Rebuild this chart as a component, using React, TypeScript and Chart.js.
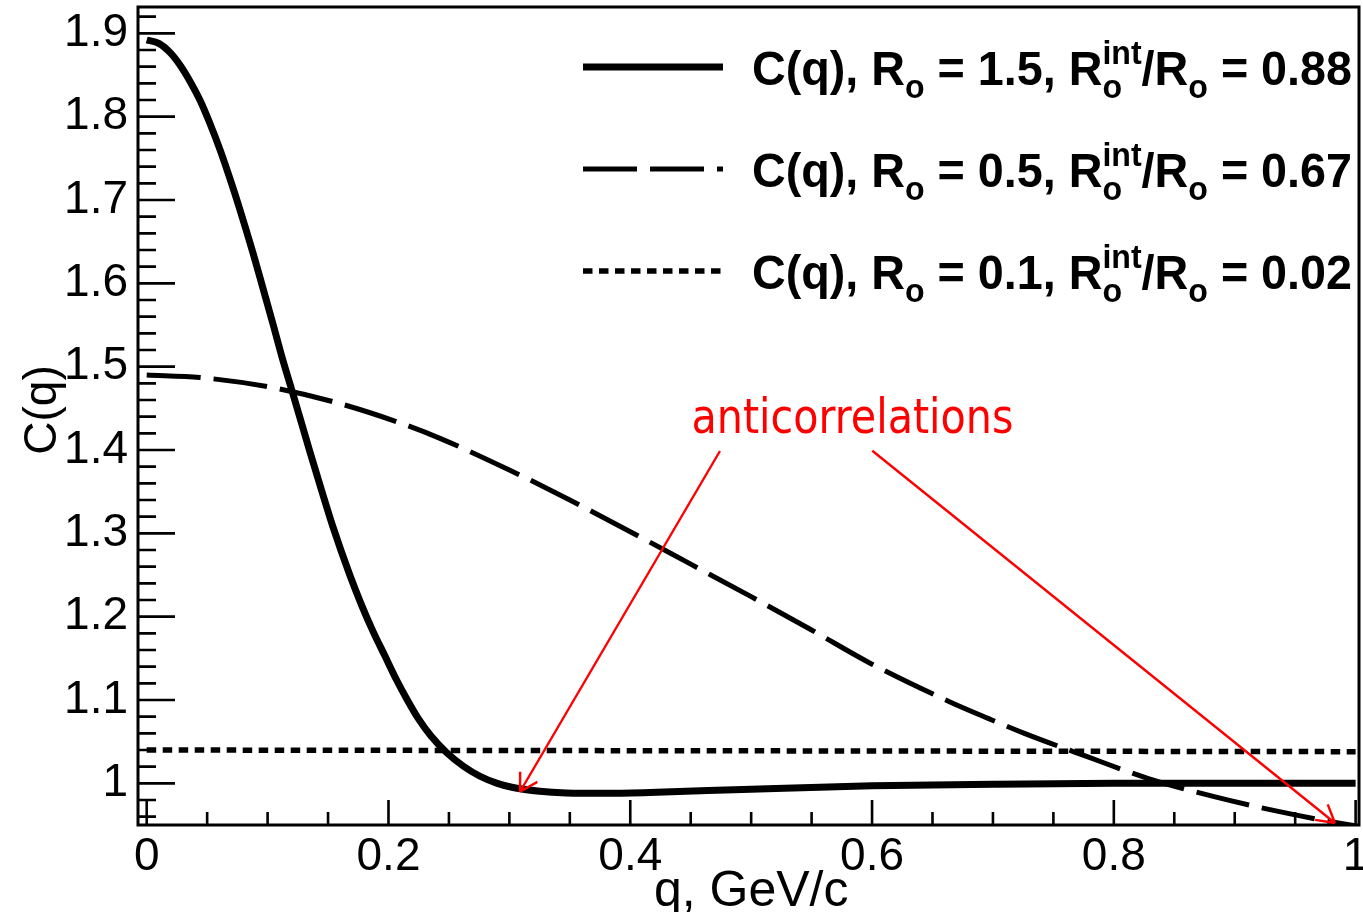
import { useEffect, useRef } from 'react';
import { Chart, registerables } from 'chart.js';

Chart.register(...registerables);

// ---- data ----
const Q_SOLID = [0, 0.01, 0.02, 0.0275, 0.036, 0.044, 0.052, 0.061, 0.069, 0.077, 0.088, 0.096, 0.1045, 0.112, 0.12, 0.135, 0.145, 0.154, 0.168, 0.178, 0.187, 0.197, 0.2067, 0.215, 0.225, 0.235, 0.248, 0.262, 0.2757, 0.29, 0.303, 0.325, 0.347, 0.38, 0.416, 0.5, 0.6, 0.7, 0.8, 1.0];
const C_SOLID = [1.892, 1.888, 1.876, 1.862, 1.842, 1.82, 1.793, 1.759, 1.725, 1.689, 1.636, 1.595, 1.551, 1.511, 1.472, 1.398, 1.35, 1.308, 1.25, 1.213, 1.183, 1.153, 1.124, 1.1016, 1.077, 1.057, 1.037, 1.0205, 1.0085, 1.0, 0.995, 0.9905, 0.9885, 0.988, 0.989, 0.993, 0.997, 0.999, 1.0, 1.0];

const Q_DASHED = [0, 0.044, 0.1, 0.154, 0.2067, 0.2426, 0.3, 0.35, 0.4, 0.45, 0.5, 0.55, 0.6, 0.664, 0.696, 0.726, 0.778, 0.828, 0.883, 0.937, 0.987, 1.0];
const C_DASHED = [1.49, 1.487, 1.476, 1.458, 1.434, 1.414, 1.376, 1.34, 1.302, 1.263, 1.224, 1.184, 1.143, 1.098, 1.078, 1.06, 1.032, 1.006, 0.984, 0.966, 0.952, 0.949];

const Q_DOTTED = [0, 0.5, 1.0];
const C_DOTTED = [1.04, 1.039, 1.038];

const X_TICKS = [0, 0.2, 0.4, 0.6, 0.8, 1];
const X_TICK_LABELS = ['0', '0.2', '0.4', '0.6', '0.8', '1'];
const Y_TICKS = [1, 1.1, 1.2, 1.3, 1.4, 1.5, 1.6, 1.7, 1.8, 1.9];
const Y_TICK_LABELS = ['1', '1.1', '1.2', '1.3', '1.4', '1.5', '1.6', '1.7', '1.8', '1.9'];

const LEGEND_R0 = ['1.5', '0.5', '0.1'];
const LEGEND_RATIO = ['0.88', '0.67', '0.02'];

const X_TITLE = 'q, GeV/c';
const Y_TITLE = 'C(q)';
const NOTE_TEXT = 'anticorrelations';

// annotation anchor points in data coordinates
const NOTE_POS = { x: 0.5838, y: 1.42 };
const ARROWS = [
  { x0: 0.4742, y0: 1.3988, x1: 0.3088, y1: 0.9899 },
  { x0: 0.6002, y0: 1.3991, x1: 0.9829, y1: 0.9524 },
];

const X_MIN = -0.0072;
const X_MAX = 1.0028;
const Y_MIN = 0.95;
const Y_MAX = 1.9316;

const SANS = '"Liberation Sans", Arial, Helvetica, sans-serif';

function drawArrow(ctx: CanvasRenderingContext2D, x0: number, y0: number, x1: number, y1: number) {
  const head = 20;
  const ang = Math.PI / 6;
  ctx.beginPath();
  ctx.moveTo(x0, y0);
  ctx.lineTo(x1, y1);
  const a = Math.atan2(y0 - y1, x0 - x1);
  for (const s of [-1, 1]) {
    ctx.moveTo(x1, y1);
    ctx.lineTo(x1 + head * Math.cos(a + s * ang), y1 + head * Math.sin(a + s * ang));
  }
  ctx.stroke();
}

type Seg = { t: string; f: string; dy: number } | { stack: { t: string; f: string; dy: number }[] };

function drawRich(ctx: CanvasRenderingContext2D, x: number, baseline: number, segs: Seg[], targetW: number) {
  const widths: number[] = segs.map((s) => {
    if ('stack' in s) {
      return Math.max(...s.stack.map((p) => { ctx.font = p.f; return ctx.measureText(p.t).width; }));
    }
    ctx.font = s.f;
    return ctx.measureText(s.t).width;
  });
  const total = widths.reduce((a, b) => a + b, 0);
  const sx = targetW / total;
  ctx.save();
  ctx.translate(x, baseline);
  ctx.scale(sx, 1);
  ctx.textAlign = 'left';
  ctx.textBaseline = 'alphabetic';
  let cx = 0;
  segs.forEach((s, i) => {
    const parts = 'stack' in s ? s.stack : [s];
    for (const p of parts) {
      ctx.font = p.f;
      ctx.fillText(p.t, cx, p.dy);
    }
    cx += widths[i];
  });
  ctx.restore();
}

const rootPlugin = {
  id: 'rootStyle',
  beforeDatasetsDraw(chart: any) {
    const { ctx, chartArea, scales } = chart;
    const { left, top, right, bottom } = chartArea;
    const xs = scales.x;
    const ys = scales.y;
    ctx.save();
    ctx.strokeStyle = '#000';
    ctx.lineWidth = 3;
    ctx.strokeRect(left, top, right - left, bottom - top);
    ctx.lineWidth = 2.6;
    ctx.beginPath();
    for (let i = 0; i <= 20; i++) {
      const v = i * 0.05;
      const px = xs.getPixelForValue(v);
      const len = i % 4 === 0 ? 25 : 13;
      ctx.moveTo(px, bottom);
      ctx.lineTo(px, bottom - len);
    }
    for (let i = 47; i <= 97; i++) {
      const v = i * 0.02;
      if (v < Y_MIN || v > Y_MAX) continue;
      const py = ys.getPixelForValue(v);
      const len = i % 5 === 0 ? 37 : 18;
      ctx.moveTo(left, py);
      ctx.lineTo(left + len, py);
    }
    ctx.stroke();
    ctx.restore();
  },
  afterDraw(chart: any) {
    const { ctx, chartArea, scales } = chart;
    const xs = scales.x;
    const ys = scales.y;
    ctx.save();
    // axis titles
    ctx.fillStyle = '#000';
    ctx.font = `50px ${SANS}`;
    ctx.textAlign = 'center';
    ctx.textBaseline = 'alphabetic';
    ctx.fillText(X_TITLE, xs.getPixelForValue(0.5), 906);
    ctx.save();
    ctx.translate(56, (chartArea.top + chartArea.bottom) / 2 - 6);
    ctx.rotate(-Math.PI / 2);
    ctx.font = `46px ${SANS}`;
    ctx.fillText(Y_TITLE, 0, 0);
    ctx.restore();

    // legend
    const ds = chart.data.datasets;
    const rowLine = [67, 169, 271];
    ds.forEach((d: any, i: number) => {
      ctx.save();
      ctx.strokeStyle = '#000';
      ctx.lineWidth = d.borderWidth;
      ctx.setLineDash(d.borderDash || []);
      ctx.lineCap = 'butt';
      ctx.beginPath();
      ctx.moveTo(583, rowLine[i]);
      ctx.lineTo(723, rowLine[i]);
      ctx.stroke();
      ctx.restore();
      const main = `bold 48px ${SANS}`;
      const small = `bold 33px ${SANS}`;
      const segs: Seg[] = [
        { t: 'C(q), R', f: main, dy: 0 },
        { t: 'o', f: small, dy: 13 },
        { t: ` = ${LEGEND_R0[i]}, R`, f: main, dy: 0 },
        { stack: [{ t: 'int', f: small, dy: -21 }, { t: 'o', f: small, dy: 13 }] },
        { t: '/R', f: main, dy: 0 },
        { t: 'o', f: small, dy: 13 },
        { t: ` = ${LEGEND_RATIO[i]}`, f: main, dy: 0 },
      ];
      ctx.fillStyle = '#000';
      drawRich(ctx, 752, rowLine[i] + 18, segs, 600);
    });

    // annotation
    ctx.fillStyle = '#ff0000';
    ctx.strokeStyle = '#ff0000';
    ctx.lineWidth = 2.4;
    ctx.font = `48px "DejaVu Sans", Verdana, sans-serif`;
    const tw = ctx.measureText(NOTE_TEXT).width;
    const cxp = xs.getPixelForValue(NOTE_POS.x);
    const cyp = ys.getPixelForValue(NOTE_POS.y);
    ctx.save();
    ctx.translate(cxp, cyp);
    ctx.scale(322 / tw, 1);
    ctx.textAlign = 'center';
    ctx.textBaseline = 'alphabetic';
    ctx.fillText(NOTE_TEXT, 0, 0);
    ctx.restore();
    for (const a of ARROWS) {
      drawArrow(ctx, xs.getPixelForValue(a.x0), ys.getPixelForValue(a.y0), xs.getPixelForValue(a.x1), ys.getPixelForValue(a.y1));
    }
    ctx.restore();
  },
};

export default function App() {
  const ref = useRef<HTMLCanvasElement | null>(null);
  useEffect(() => {
    if (!ref.current) return;
    const mk = (qs: number[], cs: number[]) => qs.map((q, i) => ({ x: q, y: cs[i] }));
    const chart = new Chart(ref.current, {
      type: 'line',
      data: {
        datasets: [
          {
            label: 'R0=1.5',
            data: mk(Q_SOLID, C_SOLID),
            borderColor: '#000',
            borderWidth: 7,
            borderDash: [],
            pointRadius: 0,
            cubicInterpolationMode: 'monotone',
            borderJoinStyle: 'round',
            fill: false,
          },
          {
            label: 'R0=0.5',
            data: mk(Q_DASHED, C_DASHED),
            borderColor: '#000',
            borderWidth: 5,
            borderDash: [54, 13],
            pointRadius: 0,
            cubicInterpolationMode: 'monotone',
            fill: false,
          },
          {
            label: 'R0=0.1',
            data: mk(Q_DOTTED, C_DOTTED),
            borderColor: '#000',
            borderWidth: 5.5,
            borderDash: [9.5, 6.5],
            pointRadius: 0,
            fill: false,
          },
        ],
      } as any,
      options: {
        animation: false,
        responsive: false,
        maintainAspectRatio: false,
        events: [],
        layout: { padding: { top: 7, right: 4, left: 0, bottom: 0 } },
        plugins: { legend: { display: false }, tooltip: { enabled: false }, title: { display: false } },
        scales: {
          x: {
            type: 'linear',
            min: X_MIN,
            max: X_MAX,
            grid: { display: false, drawTicks: false },
            border: { display: false },
            afterBuildTicks: (s: any) => { s.ticks = X_TICKS.map((v) => ({ value: v })); },
            afterFit: (s: any) => { s.height = 87; s.paddingLeft = 0; s.paddingRight = 0; },
            ticks: {
              autoSkip: false,
              maxRotation: 0,
              minRotation: 0,
              padding: 5,
              color: '#000',
              font: { family: SANS, size: 46 },
              callback: (_v: any, i: number) => X_TICK_LABELS[i],
            },
          },
          y: {
            type: 'linear',
            min: Y_MIN,
            max: Y_MAX,
            grid: { display: false, drawTicks: false },
            border: { display: false },
            afterBuildTicks: (s: any) => { s.ticks = Y_TICKS.map((v) => ({ value: v })); },
            afterFit: (s: any) => { s.width = 138; s.paddingTop = 0; s.paddingBottom = 0; },
            ticks: {
              autoSkip: false,
              padding: 10,
              color: '#000',
              font: { family: SANS, size: 46 },
              callback: (_v: any, i: number) => Y_TICK_LABELS[i],
            },
          },
        },
      } as any,
      plugins: [rootPlugin],
    });
    return () => chart.destroy();
  }, []);
  return (
    <div style={{ position: 'fixed', left: 0, top: 0, width: 1363, height: 912, background: '#fff' }}>
      <canvas ref={ref} width={1363} height={912} style={{ display: 'block' }} />
    </div>
  );
}
